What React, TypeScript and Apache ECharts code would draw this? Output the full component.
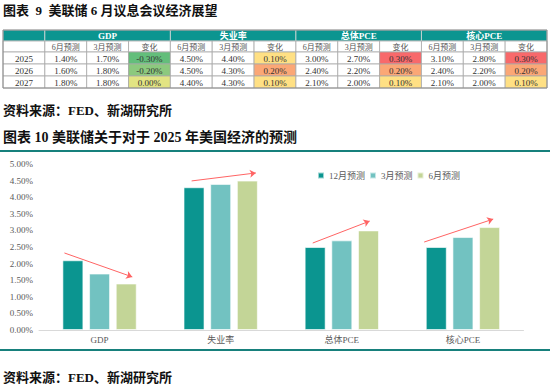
import React, { useEffect, useRef } from "react";
import * as echarts from "echarts";

// ---------- table data (图表 9) ----------
const years = ["2025", "2026", "2027"];
const groupNames = ["GDP", "失业率", "总体PCE", "核心PCE"];
const subHeads = ["6月预测", "3月预测", "变化"];
const gdpJun = [1.4, 1.6, 1.8];
const gdpMar = [1.7, 1.8, 1.8];
const unempJun = [4.5, 4.5, 4.4];
const unempMar = [4.4, 4.3, 4.3];
const pceJun = [3.0, 2.4, 2.1];
const pceMar = [2.7, 2.2, 2.0];
const coreJun = [3.1, 2.4, 2.1];
const coreMar = [2.8, 2.2, 2.0];

// ---------- chart data (图表 10) ----------
const categories = ["GDP", "失业率", "总体PCE", "核心PCE"];
const seriesNames = ["12月预测", "3月预测", "6月预测"];
const decForecast = [2.1, 4.3, 2.5, 2.5];
const marForecast = [1.7, 4.4, 2.7, 2.8];
const junForecast = [1.4, 4.5, 3.0, 3.1];
const yTicks = [0, 0.5, 1, 1.5, 2, 2.5, 3, 3.5, 4, 4.5, 5];
// annotation arrows in data space: [categoryIndex, value]
const arrowFrom = [[-0.29, 2.32], [0.76, 4.49], [1.76, 2.62], [2.68, 2.65]];
const arrowTo = [[0.27, 1.6], [1.29, 4.73], [2.23, 3.28], [3.25, 3.34]];

const SERIF = "'Liberation Serif', 'Noto Sans CJK SC', serif";
const TEAL = "#0B9590";
const barColors = ["#0B9590", "#72C2C1", "#C3D597"];

function changeColor(v: number): string {
  const r = Math.round(v * 100);
  if (r <= -30) return "#63BE7B";
  if (r <= -20) return "#8CC97E";
  if (r === 0) return "#E2E483";
  if (r <= 10) return "#FFE084";
  if (r <= 20) return "#FBA776";
  return "#F8696B";
}

function buildTable(): any[] {
  const els: any[] = [];
  const x0 = 3;
  const totalW = 544;
  const cw = totalW / 13;
  const rowY = [30, 41, 52, 64, 76, 88];
  const grid = "#A8A8A8";
  const pairs = [
    [gdpJun, gdpMar],
    [unempJun, unempMar],
    [pceJun, pceMar],
    [coreJun, coreMar],
  ];
  els.push({
    type: "rect",
    shape: { x: x0, y: rowY[0], width: cw, height: rowY[1] - rowY[0] },
    style: { fill: TEAL, stroke: "#D8D8D8", lineWidth: 0.8 },
  });
  groupNames.forEach((g, gi) => {
    const gx = x0 + cw * (1 + gi * 3);
    els.push({
      type: "rect",
      shape: { x: gx, y: rowY[0], width: cw * 3, height: rowY[1] - rowY[0] },
      style: { fill: TEAL, stroke: "#D8D8D8", lineWidth: 0.8 },
    });
    els.push({
      type: "text",
      style: {
        text: g,
        x: gx + cw * 1.5,
        y: (rowY[0] + rowY[1]) / 2 + 0.5,
        textAlign: "center",
        textVerticalAlign: "middle",
        fill: "#FFFFFF",
        fontSize: 9,
        fontWeight: "bold",
        fontFamily: SERIF,
      },
    });
  });
  els.push({
    type: "rect",
    shape: { x: x0, y: rowY[1], width: cw, height: rowY[2] - rowY[1] },
    style: { fill: "#FFFFFF", stroke: grid, lineWidth: 0.8 },
  });
  for (let gi = 0; gi < 4; gi++) {
    subHeads.forEach((s, si) => {
      const cx = x0 + cw * (1 + gi * 3 + si);
      els.push({
        type: "rect",
        shape: { x: cx, y: rowY[1], width: cw, height: rowY[2] - rowY[1] },
        style: { fill: "#FFFFFF", stroke: grid, lineWidth: 0.8 },
      });
      els.push({
        type: "text",
        style: {
          text: s,
          x: cx + cw / 2,
          y: (rowY[1] + rowY[2]) / 2 + 0.5,
          textAlign: "center",
          textVerticalAlign: "middle",
          fill: "#555555",
          fontSize: 8,
          fontFamily: SERIF,
        },
      });
    });
  }
  years.forEach((yr, ri) => {
    const y1 = rowY[ri + 2];
    const y2 = rowY[ri + 3];
    const cy = (y1 + y2) / 2 + 0.5;
    els.push({
      type: "rect",
      shape: { x: x0, y: y1, width: cw, height: y2 - y1 },
      style: { fill: "#FFFFFF", stroke: grid, lineWidth: 0.8 },
    });
    els.push({
      type: "text",
      style: {
        text: yr,
        x: x0 + cw / 2,
        y: cy,
        textAlign: "center",
        textVerticalAlign: "middle",
        fill: "#333333",
        fontSize: 9,
        fontFamily: SERIF,
      },
    });
    pairs.forEach((p, gi) => {
      const jun = p[0][ri];
      const mar = p[1][ri];
      const diff = Math.round((jun - mar) * 100) / 100;
      const vals = [jun, mar, diff];
      vals.forEach((v, si) => {
        const cx = x0 + cw * (1 + gi * 3 + si);
        els.push({
          type: "rect",
          shape: { x: cx, y: y1, width: cw, height: y2 - y1 },
          style: {
            fill: si === 2 ? changeColor(v) : "#FFFFFF",
            stroke: grid,
            lineWidth: 0.8,
          },
        });
        els.push({
          type: "text",
          style: {
            text: (Object.is(v, -0) ? 0 : v).toFixed(2) + "%",
            x: cx + cw / 2,
            y: cy,
            textAlign: "center",
            textVerticalAlign: "middle",
            fill: "#333333",
            fontSize: 9,
            fontFamily: SERIF,
          },
        });
      });
    });
  });
  els.push({
    type: "rect",
    shape: { x: x0, y: rowY[0], width: totalW, height: rowY[5] - rowY[0] },
    style: { fill: "none", stroke: "#8C8C8C", lineWidth: 1 },
  });
  return els;
}

function buildTexts(): any[] {
  const title = (text: string, y: number, size: number) => ({
    type: "text",
    style: {
      text,
      x: 3,
      y,
      textAlign: "left",
      textVerticalAlign: "middle",
      fill: "#111111",
      fontSize: size,
      fontWeight: "bold",
      fontFamily: SERIF,
    },
  });
  return [
    title("图表  9  美联储 6 月议息会议经济展望", 10, 13),
    title("资料来源：FED、新湖研究所", 110, 13),
    title("图表 10 美联储关于对于 2025 年美国经济的预测", 137, 14),
    title("资料来源：FED、新湖研究所", 377, 13),
    {
      type: "rect",
      shape: { x: 0, y: 150, width: 550, height: 2 },
      style: { fill: "#17807C" },
    },
    {
      type: "rect",
      shape: { x: 0, y: 349, width: 550, height: 2 },
      style: { fill: "#17807C" },
    },
  ];
}

export default function App() {
  const ref = useRef<HTMLDivElement>(null);
  useEffect(() => {
    if (!ref.current) return;
    const chart = echarts.init(ref.current, undefined, { renderer: "svg" });
    const seriesData = [decForecast, marForecast, junForecast];
    const option: any = {
      animation: false,
      backgroundColor: "#FFFFFF",
      legend: {
        data: seriesNames,
        top: 166,
        left: 312,
        icon: "rect",
        itemWidth: 6,
        itemHeight: 6,
        itemGap: 4,
        textStyle: { color: "#595959", fontSize: 9, fontFamily: SERIF },
      },
      grid: { left: 39, right: 26.5, top: 164, bottom: 55 },
      xAxis: [
        {
          type: "category",
          data: categories,
          axisLine: { lineStyle: { color: "#D9D9D9" } },
          axisTick: { show: false },
          axisLabel: {
            color: "#595959",
            fontSize: 9,
            fontFamily: SERIF,
            margin: 5,
          },
        },
        {
          type: "value",
          min: -0.5,
          max: 3.5,
          show: false,
        },
      ],
      yAxis: {
        type: "value",
        min: yTicks[0],
        max: yTicks[yTicks.length - 1],
        interval: 0.5,
        axisLine: { show: false },
        axisTick: { show: false },
        splitLine: { show: false },
        axisLabel: {
          color: "#595959",
          fontSize: 9,
          fontFamily: SERIF,
          margin: 6,
          formatter: (v: number) => v.toFixed(2) + "%",
        },
      },
      series: [
        ...seriesNames.map((name, i) => ({
          name,
          type: "bar",
          xAxisIndex: 0,
          data: seriesData[i],
          barWidth: 21,
          barGap: "27%",
          itemStyle: {
            color: barColors[i],
            borderColor: "rgba(255,255,255,0.6)",
            borderWidth: 1,
          },
        })),
        {
          type: "lines",
          coordinateSystem: "cartesian2d",
          xAxisIndex: 1,
          yAxisIndex: 0,
          symbol: ["none", "arrow"],
          symbolSize: 6,
          lineStyle: { color: "#FF6464", width: 1, opacity: 1 },
          silent: true,
          data: arrowFrom.map((f, i) => ({ coords: [f, arrowTo[i]] })),
        },
      ],
      graphic: [...buildTable(), ...buildTexts()],
    };
    chart.setOption(option);
    return () => chart.dispose();
  }, []);
  return (
    <div
      ref={ref}
      style={{ position: "fixed", left: 0, top: 0, width: 550, height: 385 }}
    />
  );
}
